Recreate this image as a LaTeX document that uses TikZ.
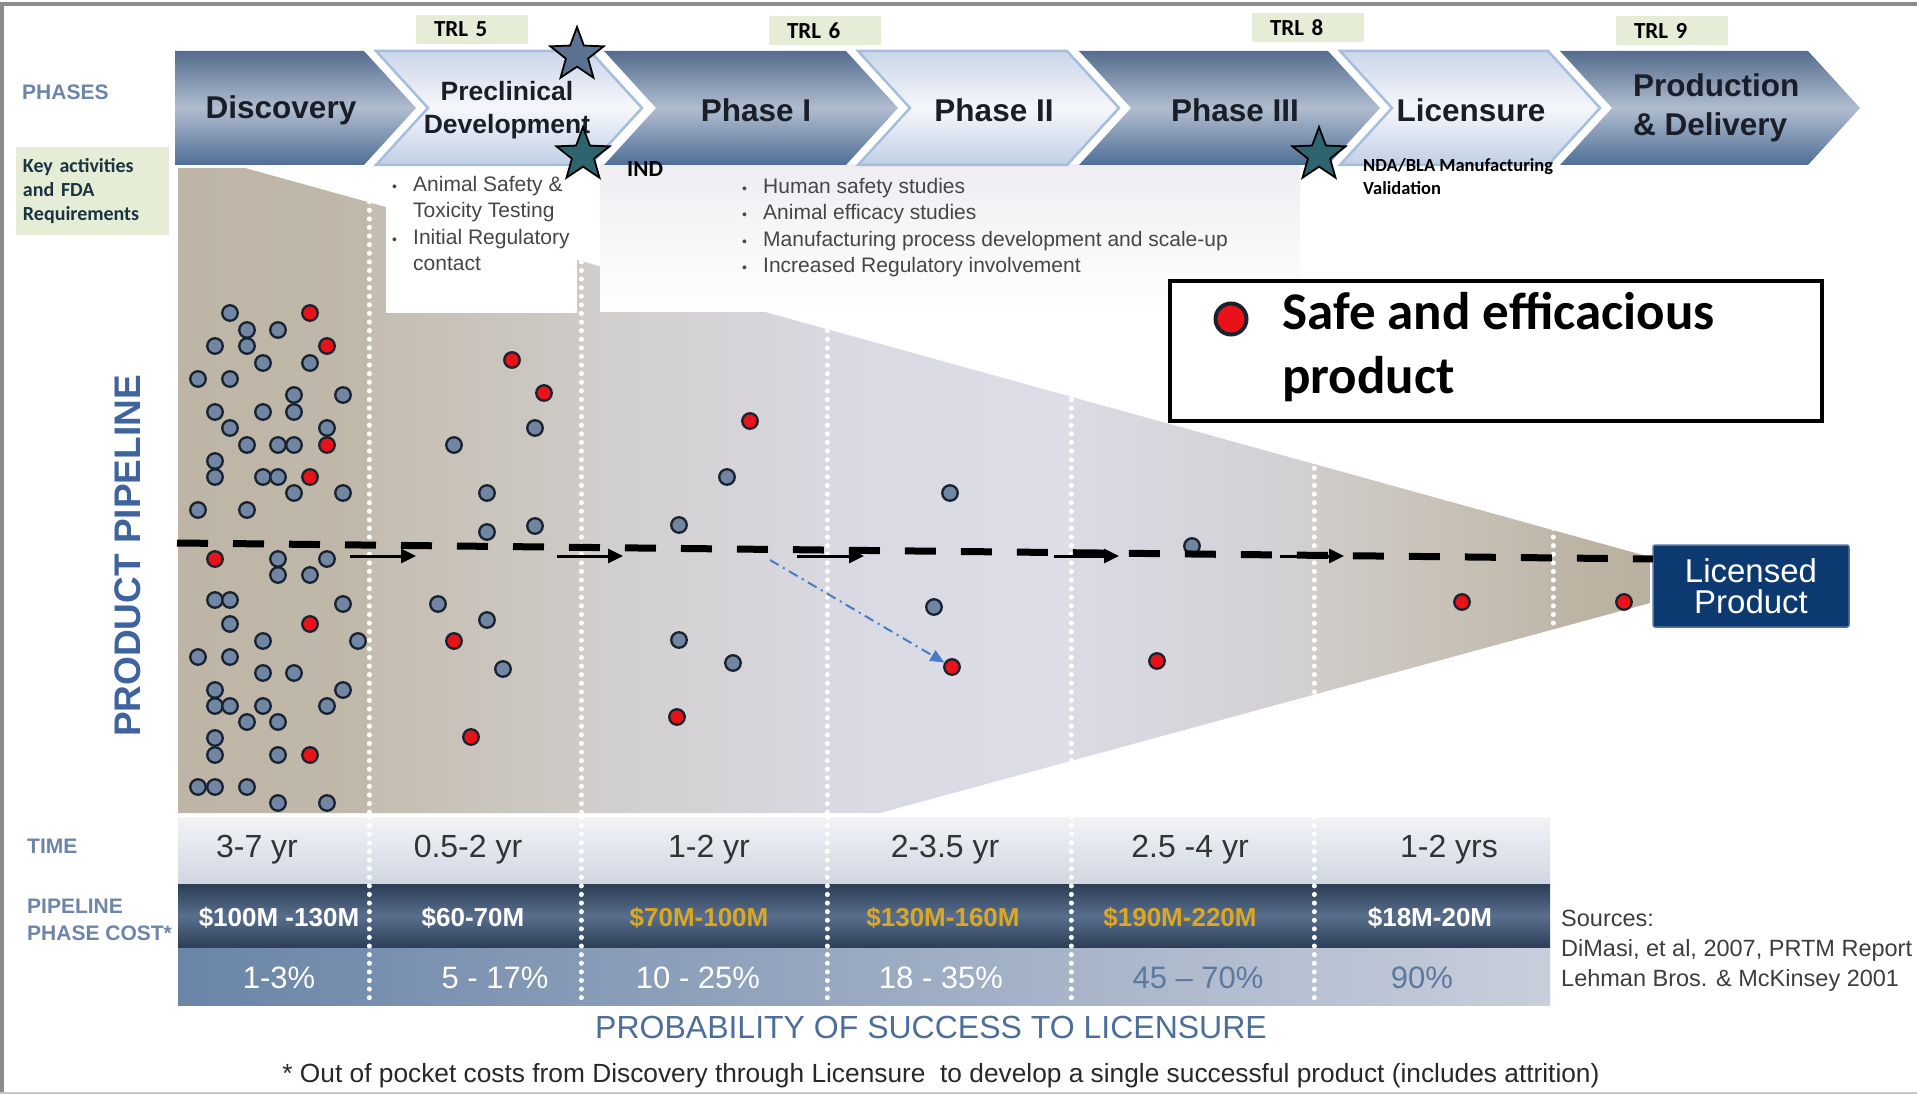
\documentclass[tikz,border=0pt]{standalone}
\usepackage{fontspec}
\setmainfont{Liberation Sans}
\newfontfamily\calib{Carlito}
\usepackage{tikz}
\usetikzlibrary{shapes.geometric, arrows.meta, positioning, calc}
\definecolor{framegray}{RGB}{140,140,140}
\definecolor{labelgray}{RGB}{108,133,168}
\definecolor{pipeblue}{RGB}{62,99,158}
\definecolor{chevtop}{RGB}{84,108,142}
\definecolor{chevmid}{RGB}{176,189,207}
\definecolor{chevbot}{RGB}{80,110,150}
\definecolor{lighttop}{RGB}{202,214,232}
\definecolor{lightmid}{RGB}{246,247,251}
\definecolor{lightbot}{RGB}{192,207,229}
\definecolor{lightedge}{RGB}{165,190,223}
\definecolor{phasetext}{RGB}{26,30,40}
\definecolor{trlgreen}{RGB}{229,237,215}
\definecolor{keytext}{RGB}{28,52,64}
\definecolor{listgray}{RGB}{70,70,72}
\definecolor{listbg}{RGB}{240,237,242}
\definecolor{stargray}{RGB}{90,113,145}
\definecolor{starteal}{RGB}{45,100,110}
\definecolor{dotgray}{RGB}{112,134,162}
\definecolor{dotred}{RGB}{232,18,24}
\definecolor{dotedge}{RGB}{25,35,48}
\definecolor{hintblue}{RGB}{70,125,196}
\definecolor{navybox}{RGB}{12,58,112}
\definecolor{timetop}{RGB}{242,243,246}
\definecolor{timebot}{RGB}{208,215,226}
\definecolor{costdark}{RGB}{44,62,86}
\definecolor{costmid}{RGB}{88,110,140}
\definecolor{costgold}{RGB}{218,168,36}
\definecolor{probleft}{RGB}{106,133,167}
\definecolor{probright}{RGB}{200,206,219}
\definecolor{probtext}{RGB}{92,121,160}
\definecolor{succblue}{RGB}{76,110,154}
\definecolor{notegray}{RGB}{40,40,40}
\definecolor{f1a}{RGB}{190,181,166}
\definecolor{f1b}{RGB}{192,184,170}
\definecolor{f2a}{RGB}{196,189,177}
\definecolor{f2b}{RGB}{206,202,197}
\definecolor{f3a}{RGB}{208,205,203}
\definecolor{f3b}{RGB}{217,216,224}
\definecolor{f4a}{RGB}{217,217,227}
\definecolor{f4b}{RGB}{221,221,231}
\definecolor{f5a}{RGB}{219,219,229}
\definecolor{f5b}{RGB}{210,207,210}
\definecolor{f6a}{RGB}{208,204,200}
\definecolor{f6b}{RGB}{192,184,170}
\definecolor{f7a}{RGB}{190,181,166}
\definecolor{f7b}{RGB}{185,176,160}
\newcommand{\bul}{\makebox[21pt][l]{\fontsize{14}{14}\selectfont\textbullet}}
\newcommand{\nobul}{\hspace*{21pt}}

\begin{document}
\begin{tikzpicture}[
  x=1pt, y=-1pt,
  chevdark/.style={top color=chevtop, bottom color=chevbot, middle color=chevmid},
  chevlight/.style={top color=lighttop, bottom color=lightbot, middle color=lightmid,
                    draw=lightedge, line width=2.5pt},
  phaselbl/.style={font=\bfseries\fontsize{31.5}{36}\selectfont, text=phasetext,
                   align=center, inner sep=0pt},
  sidelbl/.style={font=\bfseries\fontsize{21}{27}\selectfont, text=labelgray,
                  anchor=west, align=left, inner sep=0pt},
  trl/.style={fill=trlgreen, minimum width=112pt, minimum height=29pt, inner xsep=18pt,
              text width=76pt, align=left, font=\calib\bfseries\fontsize{23}{27}\selectfont},
  milestone/.style={star, star points=5, star point ratio=2.4, draw=black,
                    line width=1.8pt, inner sep=0pt, minimum size=56pt},
  milenote/.style={font=\calib\bfseries\fontsize{18.5}{23}\selectfont, align=left, inner sep=0pt},
  listtxt/.style={font=\fontsize{21}{26.3}\selectfont, text=listgray, align=left,
                  inner sep=0pt, anchor=north west},
  colsep/.style={draw=white, line width=5pt, line cap=round, dash pattern=on 0.1pt off 8.5pt},
  gdot/.style={circle, draw=dotedge, line width=2.3pt, fill=dotgray,
               minimum size=15.5pt, inner sep=0pt},
  rdot/.style={gdot, fill=dotred},
  pipe/.style={line width=7pt, dash pattern=on 31pt off 25pt},
  flow/.style={-{Triangle[length=15pt, width=14pt]}, line width=3pt},
  hint/.style={-{Triangle[length=14pt, width=12pt]}, draw=hintblue, line width=2pt,
               dash pattern=on 10pt off 5pt on 2pt off 5pt},
  timetxt/.style={font=\fontsize{32}{36}\selectfont, text=black!80},
  costtxt/.style={font=\bfseries\fontsize{26}{30}\selectfont},
  probtxt/.style={font=\fontsize{31}{35}\selectfont}
]
  \useasboundingbox (0,0) rectangle (1917,1094);

  % frame
  \draw[framegray, line width=4pt] (0,4) -- (1917,4);
  \draw[framegray, line width=4pt] (2,4) -- (2,1094);
  \draw[framegray!50, line width=2pt] (0,1093) -- (1917,1093);

  % funnel
  \begin{scope}
    \clip (178,168) -- (245,168) -- (1650,557) -- (1650,603) -- (880,813) -- (178,813) -- cycle;
    \foreach \a/\b/\ca/\cb in {178/369/f1a/f1b, 369/581/f2a/f2b, 581/827/f3a/f3b,
        827/1071/f4a/f4b, 1071/1314/f5a/f5b, 1314/1553/f6a/f6b, 1553/1650/f7a/f7b}
      \shade[left color=\ca, right color=\cb] (\a,150) rectangle (\b,820);
    \foreach \x in {369,581,827,1071,1314,1553}
      \draw[colsep] (\x,150) -- (\x,820);
  \end{scope}

  % white areas behind the activity lists
  \fill[white] (386,165) rectangle (577,313);
  \shade[top color=listbg, bottom color=white] (600,165) rectangle (1300,311);

  % rows
  \shade[top color=timetop, bottom color=timebot] (178,817) rectangle (1550,884);
  \shade[top color=costdark, bottom color=costdark, middle color=costmid] (178,884) rectangle (1550,948);
  \shade[left color=probleft, right color=probright] (178,948) rectangle (1550,1005);
  \foreach \x in {369,581,827,1071,1314}
    \draw[colsep] (\x,817) -- (\x,1005);

  \foreach \x/\t [count=\i] in {257/3-7 yr, 468/0.5-2 yr, 709/1-2 yr, 945/2-3.5 yr,
      1190/2.5 -4 yr, 1449/1-2 yrs}
    \node[timetxt] (t\i) at (\x,850) {\t};
  \foreach \x/\t/\c [count=\i] in {279/\$100M -130M/white, 473/\$60-70M/white,
      699/\$70M-100M/costgold, 943/\$130M-160M/costgold, 1180/\$190M-220M/costgold,
      1430/\$18M-20M/white}
    \node[costtxt, text=\c] (c\i) at (\x,918) {\t};
  \foreach \x/\t/\c [count=\i] in {279/1-3\%/white, 495/5 - 17\%/white, 698/10 - 25\%/white,
      941/18 - 35\%/white, 1198/45 – 70\%/probtext, 1422/90\%/probtext}
    \node[probtxt, text=\c] (p\i) at (\x,978) {\t};

  % phase chevrons
  \foreach \L/\T/\n/\kind in {175/416/0/dark, 376/642/52/light, 604/898/52/dark,
      858/1119/52/light, 1079/1380/52/dark, 1340/1600/52/light, 1560/1860/52/dark}
    \path[chev\kind] (\L,51) -- (\T-52,51) -- (\T,108) -- (\T-52,165) -- (\L,165)
      -- (\L+\n,108) -- cycle;

  \node[phaselbl] (ph1) at (281,110) {Discovery};
  \node[phaselbl, font=\bfseries\fontsize{26.5}{33}\selectfont] (ph2) at (507,110) {Preclinical\\Development};
  \node[phaselbl] (ph3) at (756,110) {Phase I};
  \node[phaselbl] (ph4) at (994,110) {Phase II};
  \node[phaselbl] (ph5) at (1235,110) {Phase III};
  \node[phaselbl] (ph6) at (1471,110) {Licensure};
  \node[phaselbl, font=\bfseries\fontsize{31.5}{39}\selectfont, align=left, anchor=west] (ph7)
    at (1633,108) {Production\\\& Delivery};

  % milestones
  \node[milestone, fill=stargray] (st1) at (577,55) {};
  \node[milestone, fill=starteal] (st2) at (583,155) {};
  \node[milestone, fill=starteal] (st3) at (1319,155) {};
  \node[milenote, font=\calib\bfseries\fontsize{23}{27}\selectfont, anchor=west] (ind) at (627,169) {IND};
  \node[milenote, anchor=west] (nda) at (1363,177) {NDA/BLA Manufacturing\\Validation};

  % technology readiness levels
  \node[trl] (trl5) at (472,29.5) {TRL 5};
  \node[trl] (trl6) at (825,31) {TRL 6};
  \node[trl] (trl8) at (1308,28) {TRL 8};
  \node[trl] (trl9) at (1672,30.5) {TRL 9};

  % side labels
  \node[sidelbl] (phases) at (22,92) {PHASES};
  \node[fill=trlgreen, minimum width=153pt, minimum height=88pt, text width=139pt,
        align=left, text=keytext, font=\calib\bfseries\fontsize{20}{24}\selectfont]
    (key) at (92.5,191) {Key activities\\and FDA\\Requirements};
  \node[rotate=90, font=\bfseries\fontsize{37}{40}\selectfont, text=pipeblue] (pp)
    at (128,556) {PRODUCT PIPELINE};
  \node[sidelbl] (time) at (27,846) {TIME};
  \node[sidelbl] (cost) at (27,919.5) {PIPELINE\\PHASE COST*};

  % key activities
  \node[listtxt] (prelist) at (392,176)
    {\bul Animal Safety \&\\\nobul Toxicity Testing\\\bul Initial Regulatory\\\nobul contact};
  \node[listtxt] (clinlist) at (742,178)
    {\bul Human safety studies\\\bul Animal efficacy studies\\\bul Manufacturing process development and scale-up\\\bul Increased Regulatory involvement};

  % candidates
  \foreach \x/\y [count=\i] in {230/313, 247/330, 278/330, 215/346, 247/346, 263/363, 310/363,
      198/379, 230/379, 294/395, 343/395, 215/412, 263/412, 294/412, 230/428, 327/428,
      247/445, 278/445, 294/445, 215/461, 215/477, 263/477, 278/477, 294/493, 343/493,
      198/510, 247/510, 278/559, 327/559, 278/575, 310/575, 215/600, 230/600, 343/604,
      230/624, 263/641, 358/641, 198/657, 230/657, 263/673, 294/673, 215/690, 343/690,
      215/706, 230/706, 263/706, 327/706, 247/722, 278/722, 215/738, 215/755, 278/755,
      198/787, 215/787, 247/787, 278/803, 327/803,
      535/428, 454/445, 487/493, 487/532, 535/526, 438/604, 487/620, 503/669,
      727/477, 679/525, 679/640, 733/663, 950/493, 934/607, 1192/546}
    \node[gdot] (g\i) at (\x,\y) {};
  \foreach \x/\y [count=\i] in {310/313, 327/346, 327/445, 310/477, 215/559, 310/624, 310/755,
      512/360, 544/393, 454/641, 471/737, 750/421, 677/717, 1157/661, 1462/602, 1624/602}
    \node[rdot] (r\i) at (\x,\y) {};
  \node[rdot] (goal) at (952,667) {};

  % licensed product and pipeline flow
  \node[fill=navybox, draw=navybox!70!white, line width=1.5pt, rounded corners=2pt,
        minimum width=196pt, minimum height=82pt, text=white, align=center,
        font=\fontsize{33}{31}\selectfont] (lic) at (1751,586) {Licensed\\Product};
  \coordinate (pipeS) at (177,543);
  \coordinate (pipeE) at (1653,559);
  \draw[pipe] (pipeS) -- (pipeE);
  \foreach \a/\b [count=\i] in {350/416, 557/623, 797/864, 1054/1119, 1280/1344} {
    \coordinate (fa\i) at (\a,556);
    \coordinate (fb\i) at (\b,556);
    \draw[flow] (fa\i) -- (fb\i);
  }
  \coordinate (hintS) at (770,560);
  \draw[hint] (hintS) -- (goal);

  % legend
  \node[draw, line width=4.5pt, fill=white, minimum width=652pt, minimum height=140pt]
    (legend) at (1496,351) {};
  \node[rdot, minimum size=31pt, line width=4pt] (legdot) at (1231,319) {};
  \node[anchor=west, align=left, inner sep=0pt, font=\calib\bfseries\fontsize{53}{64}\selectfont]
    (legtxt) at (1282,347) {Safe and efficacious\\product};

  % bottom texts
  \node[font=\fontsize{32}{36}\selectfont, text=succblue] (succ) at (931,1027)
    {PROBABILITY OF SUCCESS TO LICENSURE};
  \node[font=\fontsize{26.3}{30}\selectfont, text=notegray] (foot) at (941,1076)
    {* Out of pocket costs from Discovery through Licensure \ to develop a single successful product (includes attrition)};
  \node[anchor=west, align=left, inner sep=0pt, text=notegray!90,
        font=\fontsize{23.5}{30}\selectfont] (src) at (1561,951)
    {Sources:\\DiMasi, et al, 2007, PRTM Report\\Lehman Bros. \& McKinsey 2001};
\end{tikzpicture}
\end{document}
